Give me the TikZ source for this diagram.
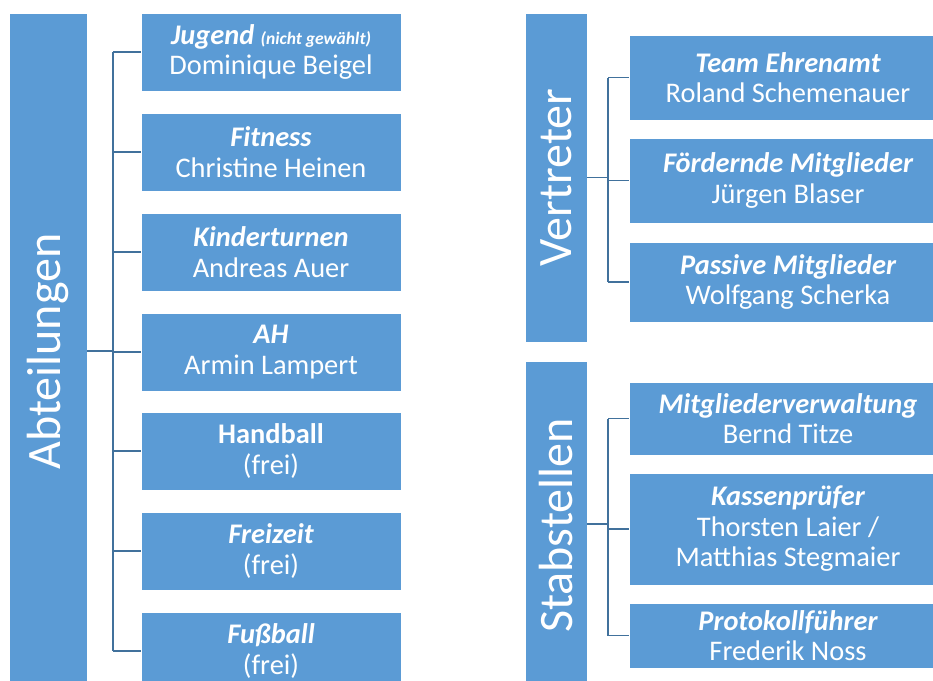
\documentclass[tikz,border=0pt]{standalone}
\usepackage{fontspec}
\setmainfont{Carlito}
\definecolor{boxblue}{HTML}{5B9BD5}
\definecolor{linkblue}{HTML}{41719C}
\tikzset{
  box/.style={rectangle, fill=boxblue, draw=white, line width=0.6pt, inner sep=0pt, text=white, align=center,
    font=\fontsize{28.4}{30.5}\selectfont},
  lbox/.style={box, minimum width=260, minimum height=78},
  rbox/.style={box, minimum width=318},
  bar/.style={rectangle, fill=boxblue, draw=white, line width=0.6pt, inner sep=0pt, text=white,
    font=\fontsize{48}{50}\selectfont},
  conn/.style={draw=linkblue, line width=1.3pt},
}
\newcommand{\ttl}[1]{{\bfseries\itshape #1}}
\begin{document}
\begin{tikzpicture}[x=1pt,y=-1pt]
\clip (0,0) rectangle (933,680);
\fill[white] (0,0) rectangle (933,680);
% bars
\node[bar, minimum width=78, minimum height=677] (abt) at (48,351.5) {};
\node[rotate=90, text=white, font=\fontsize{48}{50}\selectfont, inner sep=0pt] (abtl) at (abt.center) {Abteilungen};
\node[bar, minimum width=62, minimum height=329] (ver) at (556,177.5) {};
\node[rotate=90, text=white, font=\fontsize{48}{50}\selectfont, inner sep=0pt] (verl) at (ver.center) {Vertreter};
\node[bar, minimum width=62, minimum height=329] (sta) at (556,525.5) {};
\node[rotate=90, text=white, font=\fontsize{48}{50}\selectfont, inner sep=0pt] (stal) at (sta.center) {Stabstellen};
% left boxes
\node[lbox] (b1) at (271,52) {\ttl{Jugend} {\fontsize{17.5}{17.5}\selectfont\bfseries\itshape (nicht gewählt)}\\Dominique Beigel};
\node[lbox] (b2) at (271,152) {\ttl{Fitness}\\Christine Heinen};
\node[lbox] (b3) at (271,252) {\ttl{Kinderturnen}\\Andreas Auer};
\node[lbox] (b4) at (271,352) {\ttl{AH}\\Armin Lampert};
\node[lbox] (b5) at (271,451) {{\bfseries Handball}\\(frei)};
\node[lbox] (b6) at (271,551) {\ttl{Freizeit}\\(frei)};
\node[lbox] (b7) at (271,651) {\ttl{Fußball}\\(frei)};
% right boxes
\node[rbox, minimum height=85] (v1) at (788,77.5) {\ttl{Team Ehrenamt}\\Roland Schemenauer};
\node[rbox, minimum height=85] (v2) at (788,180.5) {\ttl{Fördernde Mitglieder}\\Jürgen Blaser};
\node[rbox, minimum height=80] (v3) at (788,282) {\ttl{Passive Mitglieder}\\Wolfgang Scherka};
\node[rbox, minimum height=73] (s1) at (788,418.5) {\ttl{Mitgliederverwaltung}\\Bernd Titze};
\node[rbox, minimum height=112] (s2) at (788,529) {\ttl{Kassenprüfer}\\Thorsten Laier /\\Matthias Stegmaier};
\node[rbox, minimum height=65] (s3) at (788,635.5) {\ttl{Protokollführer}\\Frederik Noss};
% connectors left
\coordinate (lj) at (113,351);
\draw[conn] (abt.east |- lj) -- (lj);
\draw[conn] (lj |- b1.west) -- (lj |- b7.west);
\foreach \b in {b1,b2,b3,b4,b5,b6,b7} \draw[conn] (lj |- \b.west) -- (\b.west);
% connectors right top
\coordinate (vj) at (608,177.5);
\draw[conn] (ver.east |- vj) -- (vj);
\draw[conn] (vj |- v1.west) -- (vj |- v3.west);
\foreach \b in {v1,v2,v3} \draw[conn] (vj |- \b.west) -- (\b.west);
% connectors right bottom
\coordinate (sj) at (608,524);
\draw[conn] (sta.east |- sj) -- (sj);
\draw[conn] (sj |- s1.west) -- (sj |- s3.west);
\foreach \b in {s1,s2,s3} \draw[conn] (sj |- \b.west) -- (\b.west);
\end{tikzpicture}
\end{document}
